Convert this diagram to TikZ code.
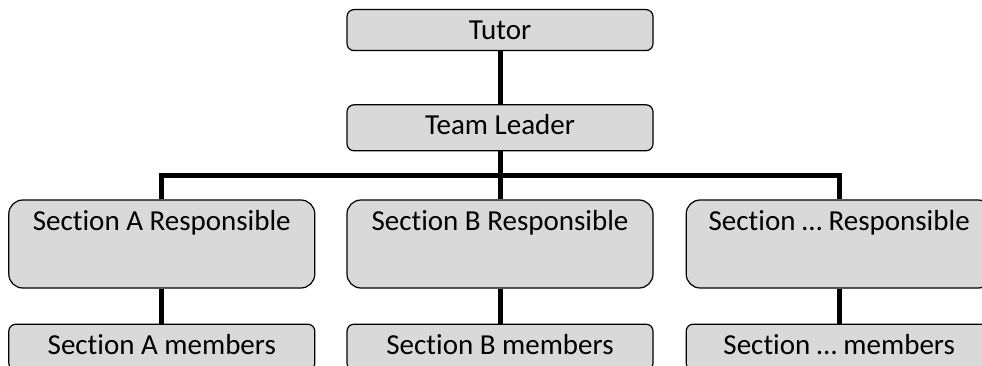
\documentclass[tikz,border=0pt]{standalone}
\usepackage{fontspec}
\setmainfont{Carlito}[Ligatures={NoCommon,NoRare}]
\usetikzlibrary{positioning}
\tikzset{
  box/.style = {draw, rectangle, line width=1.2pt, fill=black!15, rounded corners=7pt,
                minimum width=306pt, inner xsep=0pt, inner ysep=0pt, text height=30pt,
                font=\fontsize{29}{34}\selectfont},
  resp/.style = {box, rounded corners=14pt, text depth=58pt},
  members/.style = {box, text depth=16pt},
  link/.style = {draw, line width=5pt},
}

\begin{document}
\begin{tikzpicture}[x=1pt, y=1pt]
 \useasboundingbox (0,0) rectangle (982,365);
 \clip (0,0) rectangle (982,365);

 \node[box, text depth=11pt, anchor=north] (tutor) at (500,356) {Tutor};
 \node[box, text depth=16pt, below=53pt of tutor] (leader) {Team Leader};

 \node[resp, below=48pt of leader] (secB) {Section B Responsible};
 \node[resp, left=31pt of secB] (secA) {Section A Responsible};
 \node[resp, right=32pt of secB] (secC) {Section … Responsible};

 \node[members, below=35pt of secA] (memA) {Section A members};
 \node[members, below=35pt of secB] (memB) {Section B members};
 \node[members, below=35pt of secC] (memC) {Section … members};

 \coordinate (bar) at ([yshift=-24pt]leader.south);

 \draw[link] (tutor) -- (leader);
 \draw[link] (leader) -- (secB);
 \draw[link] (secA.north) |- (bar) -| (secC.north);
 \draw[link] (secA) -- (memA);
 \draw[link] (secB) -- (memB);
 \draw[link] (secC) -- (memC);
\end{tikzpicture}
\end{document}
